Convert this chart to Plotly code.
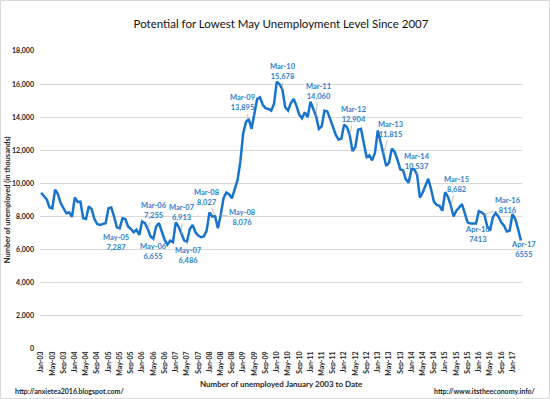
import plotly.graph_objects as go

month_names = ["Jan", "Feb", "Mar", "Apr", "May", "Jun", "Jul", "Aug", "Sep", "Oct", "Nov", "Dec"]
years = list(range(3, 18))
months = [f"{m}-{y:02d}" for y in years for m in month_names][:172]

# Number of unemployed (thousands), not seasonally adjusted, Jan-03 .. Apr-17
unemployed = [
    # 2003
    9440, 9250, 9030, 8550, 8500, 9630, 9350, 8800, 8450, 8200, 8250, 7990,
    # 2004
    9150, 8880, 8900, 7900, 7850, 8620, 8450, 7850, 7550, 7500, 7550, 7600,
    # 2005
    8500, 8550, 8000, 7350, 7287, 7900, 7850, 7400, 7250, 7050, 7200, 6900,
    # 2006
    7700, 7600, 7255, 6800, 6655, 7400, 7600, 7050, 6600, 6300, 6550, 6450,
    # 2007
    7650, 7400, 6913, 6550, 6486, 7250, 7500, 7050, 6850, 6750, 6800, 7150,
    # 2008
    8250, 8000, 8027, 7300, 8076, 9100, 9450, 9350, 9100, 9700, 10200, 11300,
    # 2009
    13000, 13700, 13895, 13300, 14200, 15100, 15200, 14750, 14550, 14500, 14400, 14800,
    # 2010
    16147, 15991, 15678, 14600, 14400, 14850, 15100, 14700, 14160, 13935, 14297, 14000,
    # 2011
    14937, 14542, 14060, 13300, 13450, 14400, 14350, 13900, 13450, 12950, 12650, 12700,
    # 2012
    13550, 13400, 12904, 11950, 12200, 13250, 13300, 12400, 11600, 11700, 11400, 11850,
    # 2013
    13200, 12500, 11815, 11050, 11250, 12100, 11900, 11450, 10850, 10800, 10250, 10050,
    # 2014
    10850, 10850, 10537, 9150, 9450, 9900, 10280, 9650, 8900, 8700, 8650, 8350,
    # 2015
    9470, 9200, 8682, 8000, 8350, 8550, 8750, 8200, 7650, 7580, 7570, 7580,
    # 2016
    8320, 8250, 8116, 7413, 7150, 7950, 8220, 8000, 7650, 7450, 7100, 7150,
    # 2017
    8150, 7850, 7250, 6555,
]

tick_labels = [
    "Jan-03", "May-03", "Sep-03", "Jan-04", "May-04", "Sep-04", "Jan-05", "May-05", "Sep-05",
    "Jan-06", "May-06", "Sep-06", "Jan-07", "May-07", "Sep-07", "Jan-08", "May-08", "Sep-08",
    "Jan-09", "May-09", "Sep-09", "Jan-10", "May-10", "Sep-10", "Jan-11", "May-11", "Sep-11",
    "Jan-12", "May-12", "Sep-12", "Jan-13", "May-13", "Sep-13", "Jan-14", "May-14", "Sep-14",
    "Jan-15", "May-15", "Sep-15", "Jan-16", "May-16", "Sep-16", "Jan-17",
]

y_ticks = [0, 2000, 4000, 6000, 8000, 10000, 12000, 14000, 16000, 18000]
y_tick_text = ["0", "2,000", "4,000", "6,000", "8,000", "10,000", "12,000", "14,000", "16,000", "18,000"]

ann_months = ["May-05", "Mar-06", "May-06", "Mar-07", "May-07", "Mar-08", "May-08", "Mar-09",
              "Mar-10", "Mar-11", "Mar-12", "Mar-13", "Mar-14", "Mar-15", "Mar-16", "Apr-16", "Apr-17"]
ann_values = ["7,287", "7,255", "6,655", "6,913", "6,486", "8,027", "8,076", "13,895",
              "15,678", "14,060", "12,904", "11,815", "10,537", "8,682", "8116", "7413", "6555"]
# label offsets in pixels (style)
ann_offsets = [(-4, 14), (6, -18), (0, 13), (1, -22), (1, 14), (-8, -19), (22, 2), (-6, -16),
               (1, -18), (2, -25), (4, -21), (7, -24), (0, -13), (6, -21), (24, -9), (-10, 8), (3, 9)]

LINE = "#1874CD"
LBL = "#2F7FD0"
FONT = "Lato, 'Open Sans', sans-serif"

x_idx = list(range(len(months)))

fig = go.Figure()
fig.add_trace(go.Scatter(x=x_idx, y=unemployed, mode="lines",
                         line=dict(color=LINE, width=2.5), hoverinfo="skip",
                         showlegend=False))

annotations = []
for m, v, (ax, ay) in zip(ann_months, ann_values, ann_offsets):
    i = months.index(m)
    annotations.append(dict(
        x=i, y=unemployed[i], xref="x", yref="y",
        text=f"{m}<br>{v}", showarrow=True, arrowhead=0, arrowwidth=0.7,
        arrowcolor="#A6A6A6", ax=ax, ay=ay, standoff=0,
        font=dict(family=FONT, size=7.5, color=LBL, weight="bold"),
        align="center"))

annotations += [
    dict(text="Number of unemployed (in thousands)", textangle=-90, xref="paper", yref="paper",
         x=-0.068, y=0.5, xanchor="center", yanchor="middle", showarrow=False,
         font=dict(family=FONT, size=7.5, color="#262626", weight="bold")),
    dict(text="Number of unemployed January 2003 to Date", xref="paper", yref="paper",
         x=0.5, y=-0.118, xanchor="center", yanchor="middle", showarrow=False,
         font=dict(family=FONT, size=8, color="#262626", weight="bold")),
    dict(text="http://anxietea2016.blogspot.com/", xref="paper", yref="paper",
         x=-0.056, y=-0.141, xanchor="left", yanchor="middle", showarrow=False,
         font=dict(family=FONT, size=7, color="#262626", weight="bold")),
    dict(text="http://www.itstheeconomy.info/", xref="paper", yref="paper",
         x=1.034, y=-0.141, xanchor="right", yanchor="middle", showarrow=False,
         font=dict(family=FONT, size=7, color="#262626", weight="bold")),
]

fig.update_layout(
    width=550, height=399,
    margin=dict(l=40, r=28, t=51, b=50),
    paper_bgcolor="white", plot_bgcolor="white",
    title=dict(text="Potential for Lowest May Unemployment Level Since 2007",
               x=0.5, xref="paper", xanchor="center", y=1 - 24 / 399, yanchor="middle",
               font=dict(family=FONT, size=11.5, color="#111111")),
    annotations=annotations,
    shapes=[dict(type="rect", xref="paper", yref="paper",
                 x0=-(40 - 0.5) / 482, x1=(550 - 40 - 0.5) / 482,
                 y0=-(399 - 349 - 0.5) / 298, y1=1 + (51 - 0.5) / 298,
                 line=dict(color="#D9D9D9", width=1))],
)

fig.update_xaxes(
    range=[-0.4, 171.4], tickmode="array",
    tickvals=[months.index(t) for t in tick_labels], ticktext=tick_labels,
    tickangle=-90, showgrid=False, zeroline=False, showline=False, ticks="",
    tickfont=dict(family=FONT, size=7, color="#262626", weight="bold"),
)
fig.update_yaxes(
    range=[0, 18000], tickmode="array", tickvals=y_ticks, ticktext=y_tick_text,
    showgrid=True, gridcolor="#D9D9D9", gridwidth=1, zeroline=False, showline=False,
    ticks="", ticklabelstandoff=5,
    tickfont=dict(family=FONT, size=7, color="#262626", weight="bold"),
)

fig.write_html("out.html", config={"displayModeBar": False, "staticPlot": True},
               post_script="document.body.style.margin='0';document.body.style.overflow='hidden';")
